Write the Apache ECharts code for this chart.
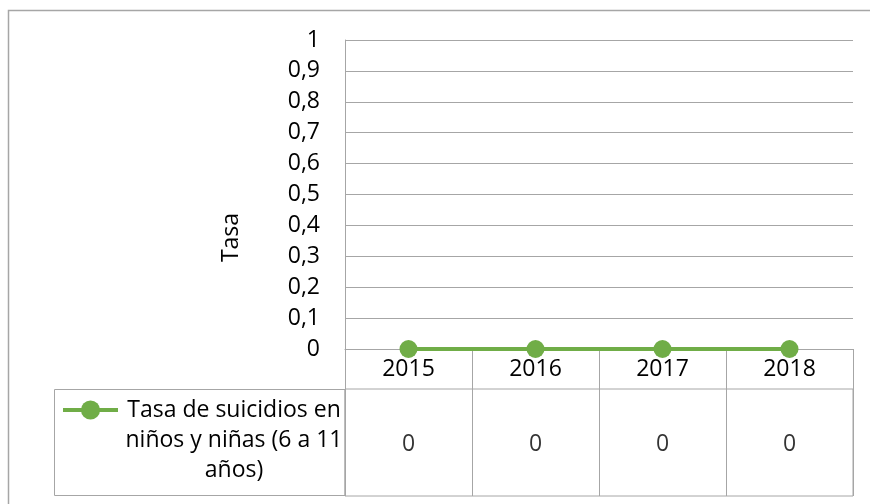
<!DOCTYPE html>
<html>
<head>
<meta charset="utf-8">
<script src="https://cdn.jsdelivr.net/npm/echarts@6/dist/echarts.min.js"></script>
<style>
  html, body { margin: 0; padding: 0; background: #fff; }
  #chart { width: 870px; height: 504px; }
</style>
</head>
<body>
<div id="chart"></div>
<script>
var years = ['2015', '2016', '2017', '2018'];
var tasa = [0, 0, 0, 0];
var serieName = 'Tasa de suicidios en niños y niñas (6 a 11 años)';
var nameLines = ['Tasa de suicidios en', 'niños y niñas (6 a 11', 'años)'];
var yMin = 0, yMax = 1, yStep = 0.1;

var gris = '#a6a6a6';
var verde = '#70ad47';
var fuente = 'Open Sans';
var tamNum = 23;   // numeros de ejes y tabla
var tamTxt = 23;   // leyenda y titulo del eje

var myChart = echarts.init(document.getElementById('chart'));

var option = {
    backgroundColor: '#fff',
    animation: false,
    textStyle: { fontFamily: fuente },
    grid: [
        { left: 345, right: 17, top: 40, height: 309 },
        { left: 345, right: 17, top: 389, height: 107, show: true, borderColor: gris, borderWidth: 1 }
    ],
    legend: {
        left: 61,
        top: 335,
        padding: 0,
        itemWidth: 55,
        itemHeight: 24,
        itemGap: 0,
        data: [serieName],
        lineStyle: { width: 4 },
        formatter: function () {
            // dos lineas vacias para que el icono quede en la primera linea
            return '\n\n' + nameLines.map(function (l) { return '{c|' + l + '}'; }).join('\n');
        },
        textStyle: {
            fontFamily: fuente,
            fontSize: tamTxt,
            color: '#000',
            lineHeight: 30,
            rich: {
                c: { width: 222, align: 'center', fontSize: tamTxt, lineHeight: 30, fontFamily: fuente, color: '#000' }
            }
        }
    },
    graphic: [
        {
            type: 'rect',
            shape: { x: 8.5, y: 10.5, width: 900, height: 600 },
            style: { fill: 'none', stroke: gris, lineWidth: 1.5 },
            silent: true
        },
        {
            type: 'rect',
            shape: { x: 54.5, y: 389.5, width: 290.5, height: 106 },
            style: { fill: 'none', stroke: gris, lineWidth: 1 },
            silent: true
        }
    ],
    xAxis: [
        {
            type: 'category',
            gridIndex: 0,
            data: years,
            boundaryGap: true,
            axisLine: { show: true, lineStyle: { color: gris, width: 1 } },
            axisTick: { show: true, interval: 0, length: 40, lineStyle: { color: gris } },
            axisLabel: { margin: 9, fontSize: tamNum, color: '#000', fontFamily: fuente },
            splitLine: { show: false }
        },
        {
            type: 'category',
            gridIndex: 1,
            data: years,
            boundaryGap: true,
            axisLine: { show: false },
            axisTick: { show: false },
            axisLabel: { show: false },
            splitLine: { show: true, interval: 0, lineStyle: { color: gris, width: 1 } }
        }
    ],
    yAxis: [
        {
            type: 'value',
            gridIndex: 0,
            min: yMin,
            max: yMax,
            interval: yStep,
            name: 'Tasa',
            nameLocation: 'middle',
            nameGap: 102,
            nameRotate: 90,
            nameTextStyle: { fontSize: tamTxt, color: '#000', fontFamily: fuente, padding: [0, 86, 0, 0] },
            axisLine: { show: true, lineStyle: { color: gris, width: 1 } },
            axisTick: { show: false },
            axisLabel: {
                margin: 25,
                fontSize: tamNum,
                color: '#000',
                fontFamily: fuente,
                formatter: function (v) { return String(Math.round(v * 10) / 10).replace('.', ','); }
            },
            splitLine: { show: true, lineStyle: { color: gris, width: 1 } }
        },
        {
            type: 'value',
            gridIndex: 1,
            min: 0,
            max: 1,
            show: false,
            splitLine: { show: false }
        }
    ],
    series: [
        {
            name: serieName,
            type: 'line',
            xAxisIndex: 0,
            yAxisIndex: 0,
            data: tasa,
            symbol: 'circle',
            symbolSize: 18,
            itemStyle: { color: verde },
            lineStyle: { color: verde, width: 4 },
            z: 5
        },
        {
            name: 'tabla',
            type: 'scatter',
            xAxisIndex: 1,
            yAxisIndex: 1,
            symbolSize: 0,
            data: tasa.map(function (v, i) { return [years[i], 0.5]; }),
            label: {
                show: true,
                position: 'inside',
                offset: [0, 2],
                fontSize: tamNum,
                color: '#000',
                fontFamily: fuente,
                formatter: function (p) { return String(tasa[p.dataIndex]).replace('.', ','); }
            },
            silent: true
        }
    ]
};

myChart.setOption(option);
</script>
</body>
</html>
